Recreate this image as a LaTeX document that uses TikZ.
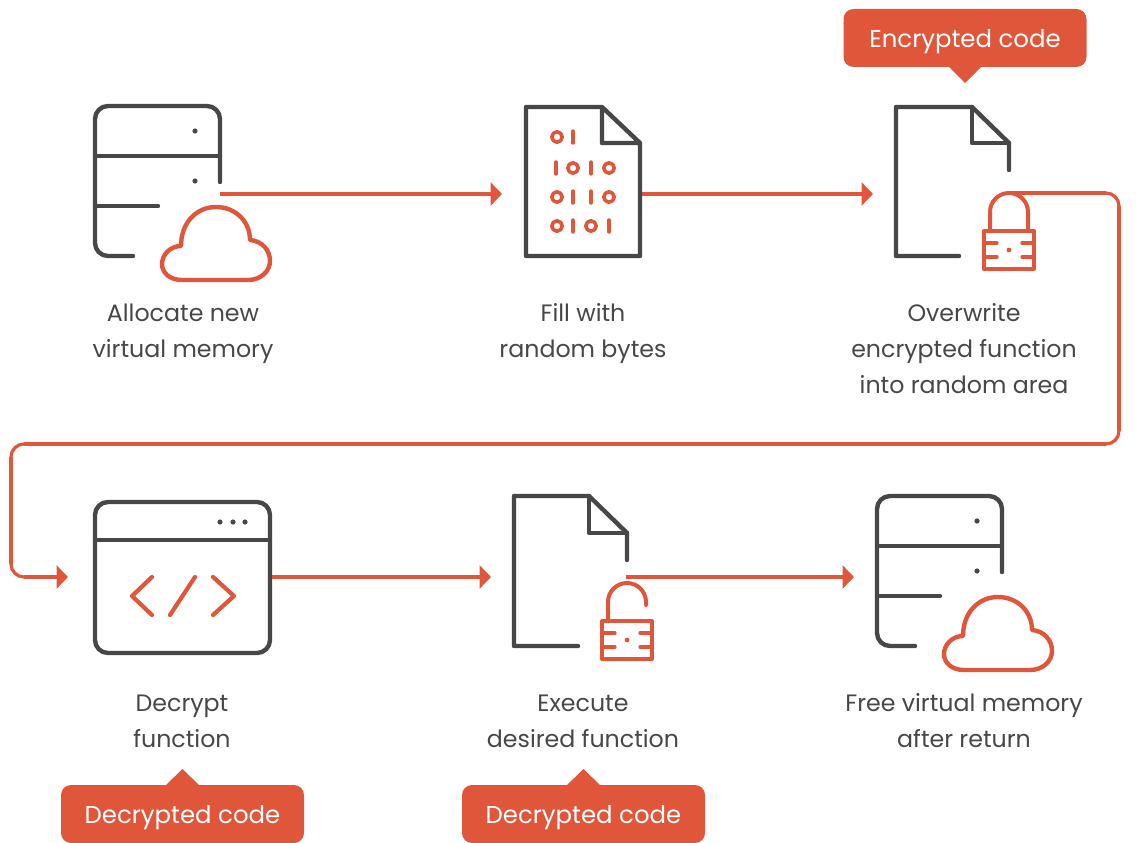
\documentclass[tikz,border=0pt]{standalone}
\usepackage{fontspec}
\setmainfont{Poppins}
\usetikzlibrary{arrows.meta}
\definecolor{org}{HTML}{E0563B}
\definecolor{drk}{HTML}{474747}
\tikzset{
  icondark/.style={draw=drk,line width=4.4pt,line cap=round,line join=round},
  iconorg/.style={draw=org,line width=4pt,line cap=round,line join=round},
  thin org/.style={draw=org,line width=3.2pt,line cap=round,line join=round},
  flowline/.style={draw=org,line width=3.2pt},
  flow/.style={flowline,-{Triangle[length=11.5pt,width=23pt]}},
  lbl/.style={text=drk,font=\fontsize{23.7pt}{36pt}\selectfont,align=center,inner sep=0pt},
  callout/.style={fill=org,text=white,rounded corners=10pt,minimum width=243pt,minimum height=58pt,inner sep=0pt,text height=22pt,text depth=3pt,font=\fontsize{24.4pt}{28pt}\selectfont},
}
\newcommand{\serverIcon}[2]{%
 \begin{scope}[shift={(#1,#2)}]
  \draw[icondark,rounded corners=13pt] (220,182) -- (220,106) -- (95,106) -- (95,256) -- (133,256);
  \draw[icondark] (95,156) -- (220,156);
  \draw[icondark] (95,206) -- (158,206);
  \fill[drk] (195,131) circle (2.6pt) (195,181) circle (2.6pt);
  \draw[iconorg,line width=4.4pt] (182,280) -- (248,280) .. controls (261,280) and (270,271) .. (270,261) .. controls (270,250) and (262,241) .. (250,240) .. controls (250,221) and (235,207) .. (216,207) .. controls (197,207) and (181,222) .. (181,246) .. controls (170,246) and (162,255) .. (162,264) .. controls (162,273) and (170,280) .. (182,280) -- cycle;
 \end{scope}}
\newcommand{\lockBody}[2]{%
 \begin{scope}[shift={(#1,#2)}]
  \draw[iconorg] (984,231) rectangle (1034,269);
  \draw[thin org] (984,243) -- (997,243) (984,257) -- (997,257) (1022,243) -- (1034,243) (1022,257) -- (1034,257);
  \fill[org] (1009,250) circle (2.4pt);
 \end{scope}}
\begin{document}
\begin{tikzpicture}[x=1pt,y=-1pt]
\useasboundingbox (0,0) rectangle (1144,843);
% named anchors
\coordinate (s1) at (220,194);
\coordinate (d1in) at (502,194);
\coordinate (d1out) at (640,194);
\coordinate (d2in) at (873,194);
\coordinate (lockTop) at (1009,193);
\coordinate (c1) at (1119,193);
\coordinate (c2) at (1119,444);
\coordinate (c3) at (11,444);
\coordinate (c4) at (11,577);
\coordinate (c5) at (45,577);
\coordinate (c1a) at (1106,193);
\coordinate (c1b) at (1119,206);
\coordinate (c2a) at (1119,431);
\coordinate (c2b) at (1106,444);
\coordinate (c3a) at (24,444);
\coordinate (c3b) at (11,457);
\coordinate (c4a) at (11,564);
\coordinate (c4b) at (24,577);
\coordinate (winIn) at (68,577);
\coordinate (winOut) at (271,577);
\coordinate (d3in) at (491,577);
\coordinate (d3out) at (626,577);
\coordinate (s2in) at (854,577);

% connectors
\draw[flow] (s1) -- (d1in);
\draw[flow] (d1out) -- (d2in);
\draw[flowline,rounded corners=13pt] (lockTop) -- (c1) -- (c2) -- (c3) -- (c4) -- (c5);
\draw[flowline] (lockTop) -- (c1a);
\draw[flowline] (c1b) -- (c2a);
\draw[flowline] (c2b) -- (c3a);
\draw[flowline] (c3b) -- (c4a);
\draw[flowline] (c4b) -- (c5);
\draw[flow] (c5) -- (winIn);
\draw[flow] (winOut) -- (d3in);
\draw[flow] (d3out) -- (s2in);

% servers
\serverIcon{0}{0}
\serverIcon{782}{390}

% document with binary
\draw[icondark] (602,107) -- (526,107) -- (526,256) -- (640,256) -- (640,143) -- (602,107) -- (602,143) -- (640,143);
\foreach \x/\y in {557/137,609/168,573/168,557/197,609/197,557/226,591/226}
  \draw[iconorg,line width=3.6pt] (\x,\y) circle (5.2pt);
\foreach \x/\y in {573/137,556/168,591/168,573/197,591/197,573/226,609/226}
  \draw[iconorg,line width=3.4pt] (\x,\y-6) -- (\x,\y+6);

% document + closed lock
\draw[icondark] (959,256) -- (896,256) -- (896,107) -- (972,107) -- (1009,143) -- (1009,170);
\draw[icondark] (972,107) -- (972,143) -- (1009,143);
\lockBody{0}{0}
\draw[iconorg] (990,231) -- (990,212) arc[start angle=180,end angle=0,radius=19pt] -- (1028,231);

% document + open lock
\draw[icondark] (578,646) -- (514,646) -- (514,496) -- (589,496) -- (627,533) -- (627,560);
\draw[icondark] (589,496) -- (589,533) -- (627,533);
\lockBody{-382}{390}
\draw[iconorg] (608,621) -- (608,602) arc[start angle=180,end angle=0,radius=19pt] -- (646,605);

% window
\draw[icondark,rounded corners=13pt] (95,502) rectangle (270,653);
\draw[icondark] (95,540) -- (270,540);
\fill[drk] (220,522) circle (2.6pt) (233,522) circle (2.6pt) (245,522) circle (2.6pt);
\draw[iconorg,line width=4.2pt] (152,577) -- (132,596) -- (152,615);
\draw[iconorg,line width=4.2pt] (195,577) -- (170,615);
\draw[iconorg,line width=4.2pt] (213,577) -- (234,596) -- (213,615);

% labels
\node[lbl] (l1) at (183,334) {Allocate new\\virtual memory};
\node[lbl] (l2) at (583,334) {Fill with\\random bytes};
\node[lbl] (l3) at (964,349) {Overwrite\\encrypted function\\into random area};
\node[lbl] (l4) at (182,721) {Decrypt\\function};
\node[lbl] (l5) at (583,721) {Execute\\desired function};
\node[lbl] (l6) at (964,721) {Free virtual memory\\after return};

% callouts
\node[callout] (encr) at (965,38) {Encrypted code};
\fill[org] (948,66) -- (965,83) -- (982,66) -- cycle;
\node[callout] (dec1) at (182.5,814) {Decrypted code};
\fill[org] (165,786) -- (182.5,769) -- (200,786) -- cycle;
\node[callout] (dec2) at (583.5,814) {Decrypted code};
\fill[org] (566,786) -- (583.5,769) -- (601,786) -- cycle;
\end{tikzpicture}
\end{document}
